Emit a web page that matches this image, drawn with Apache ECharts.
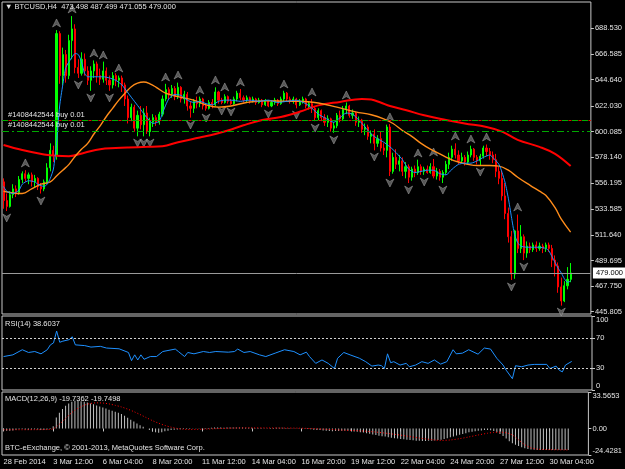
<!DOCTYPE html>
<html>
<head>
<meta charset="utf-8">
<title>BTCUSD,H4</title>
<script src="https://cdn.jsdelivr.net/npm/echarts@6/dist/echarts.min.js"></script>
<style>
html, body { margin: 0; padding: 0; background: #000; }
#main { width: 625px; height: 469px; }
</style>
</head>
<body>
<div id="main"></div>
<script>
// time axis: one label every 16 bars (H4)
var timeLabels = ['28 Feb 2014', '3 Mar 12:00', '6 Mar 04:00', '8 Mar 20:00', '11 Mar 12:00', '14 Mar 04:00',
  '16 Mar 20:00', '19 Mar 12:00', '22 Mar 04:00', '24 Mar 20:00', '27 Mar 12:00', '30 Mar 04:00'];
var labelStep = 16;
var slots = 189;

var opens = [557,541,536,546,551,548,559,564,560,563, 557,560,553,551,557,569,584,580,684,648,
  666,648,678,688,655,650,662,652,644,652, 658,648,645,652,644,640,648,644,646,640,
  628,612,621,603,614,606,616,600,608,612, 608,615,628,636,632,637,630,638,628,632,
  622,620,626,624,628,622,620,625,623,634, 627,625,630,626,624,628,633,629,627,629,
  626,628,625,627,623,626,622,625,627,624, 628,633,628,626,628,623,626,628,622,624,
  620,612,618,612,608,611,603,605,614,611, 619,622,614,616,608,610,602,604,596,598,
  590,594,586,584,604,566,578,572,575,566, 570,561,568,565,570,566,568,565,570,562,
  566,561,565,572,578,585,580,575,578,574, 580,585,578,575,579,586,583,580,576,566,
  560,545,530,510,478,515,500,510,496,502, 499,503,500,502,500,503,500,490,485,467,
  455,468,473.498];
var highs = [560,547,549,555,554,562,566,567,565,565, 563,561,556,559,573,590,588,687,686,672,
  670,683,699,692,662,668,667,656,656,661, 660,654,660,655,648,651,650,648,648,642,
  631,624,623,618,622,620,622,612,615,614, 617,631,641,638,640,639,642,639,635,634,
  626,628,630,630,629,624,627,628,638,635, 629,632,631,628,630,635,636.5,631,631,630,
  630,629,629,628,628,627,627,629,628,630, 635,634,630,630,629,628,630,629,626,628,
  622,620,619,615,614,612,608,616,618,622, 625,623,619,617,613,611,607,606,601,602,
  597,600,590,606,606.5,582,585,580,578,574, 572,570,571,576,572,570,571,573,576.6,569,
  568,567,575,582,588,590,584,582,580,583, 588,586,580,581,588,589,586,583,581,570,
  567,556,535,515,516,529,520,512,506,505, 505,506,505,504,505,505,503,494,488,475,
  472,484,487.499];
var lows = [534,532,535,543,544,546,556,557,555,553, 552,550,547,549,555,566,574,576,641,640,
  642,645,662,650,646,648,648,640,635,646, 642,640,642,640,635,637,639,638,634,622,
  607,609,600,596,602,596,598,596,604,605, 606,613,626,628,629,627,628,625,624,618,
  612,616,620,621,619,618,619,620,622,624, 623.5,624,624,623,623,626,627,625,625,624,
  625,623,624,621,622,621,621,623,622,623, 626,626,624,624,620,622,624,620,619,616,
  609,610,609,605,604,600,599,603,608,609, 615,612,611,605,604,599,597,593,590,584,
  587,583,580,578,562,564,568,566,562,560, 556,558,561,563,563,563,564,564,560,559,
  558,556,563,568,575,577,572,573,571,572, 578,575,572,571,577,579,576,573,561,555,
  541,525,505,473,474,496,496,490,492,496, 497,497,498,496,497,497,484,476,462,451,
  454,465,471.055];
var closes = [541,536,546,551,548,559,564,560,563,557, 560,553,551,557,569,584,580,684,648,666,
  648,678,688,655,650,662,652,644,652,658, 648,645,652,644,640,648,644,646,640,628,
  612,621,603,614,606,616,600,608,612,608, 615,628,636,632,637,630,638,628,632,622,
  620,626,624,628,622,620,625,623,634,627, 625,630,626,624,628,633,629,627,629,626,
  628,625,627,623,626,622,625,627,624,628, 633,628,626,628,623,626,628,622,624,620,
  612,618,612,608,611,603,605,614,611,619, 622,614,616,608,610,602,604,596,598,590,
  594,586,584,604,566,578,572,575,566,570, 561,568,565,570,566,568,565,570,562,566,
  561,565,572,578,585,580,575,578,574,580, 585,578,575,579,586,583,580,576,566,560,
  545,530,510,478,515,500,510,496,502,499, 503,500,502,500,503,500,490,485,467,455,
  468,473.5,479];

// moving averages: [bar, price]
var fastMa = [[0,553],[1,549],[3,547],[5,550],[6,555],[8,558],[10,557],[11,555],[13,553],[14,555],[15,560],[16,568],
  [17,590],[18,622],[19,640],[20,655],[22,664],[23,667],[24,666],[25,660],[26,650],[27,647],[30,647],[32,647],
  [34,646],[36,644],[38,640],[40,633],[42,626],[44,619],[46,612],[48,607],[50,609],[51,616],[53,628],[55,632],
  [57,631],[59,627],[61,625],[63,626],[65,624],[67,623],[69,626],[71,627],[73,627],[76,626],[79,627],[82,626],
  [85,627],[88,625],[91,626],[94,627],[97,624],[99,620],[101,615],[103,612],[106,608],[108,612],[110,616],
  [112,615],[114,610],[116,604],[118,598],[120,594],[122,591],[124,587],[126,582],[128,576],[130,568],[132,565],
  [134,566],[136,567],[138,567],[140,564],[142,563],[144,568],[146,572],[148,573],[150,573],[152,575],[154,578],
  [156,580],[157,578],[159,572],[160,565],[161,556],[162,543],[163,527],[164,512],[165,505],[166,502],[168,501],
  [170,501],[172,501],[174,500],[175,498],[176,493],[177,488],[178,483],[179,479],[180,474],[181,471],[182,472]];
var midMa = [[0,549],[3,547.5],[6,547],[9,551],[12,555],[15,557],[17,562],[19,567],[21,572],[23,579],[25,585],
  [27,590],[29,598],[31,605],[33,613],[35,620],[37,627],[39,633],[41,638.5],[43,641.5],[45,642.5],[47,641],
  [49,638],[52,633],[56,630],[61,627],[65,623],[69,621],[73,622],[78,625],[84,626.5],[91,626],[95,626],
  [101,624.5],[107,621],[113,617],[118,614.5],[122,611],[125,607],[128,601],[131,596],[134,590],[137,585],
  [140,581],[143,577],[146,574],[149,572],[152,571],[156,571],[159,570.5],[162,567],[165,561],[169,554],
  [172,549],[174,545.5],[177,535],[179,525],[182,514]];
var slowMa = [[0,588.6],[6,584.3],[13,580.5],[17,579.3],[21,579],[26,582],[31,585],[36,586],[40,586.5],[46,587],
  [51,587.5],[56,591],[63,595],[68,598],[72,601],[77,605.5],[83,610],[89,612.6],[95,617],[101,622.5],
  [108,625.5],[115,628],[118,627.5],[121,625],[124,622],[129,618.6],[135,614],[142,610],[148,607],[155,604],
  [160,600],[165,593],[172,587],[177,581],[182,570.5]];

// fractal arrows: [bar, price]
var fractalUp = [[7,573.2],[17,693.1],[22,705.1],[29,667.4],[32,665.7],[37,654.5],[52,646.8],[56,648.5],[63,635.7],
  [68,644.3],[71,638.3],[76,642.5],[90,640.8],[99,634.0],[110,631.4],[124,612.6],[133,581.7],[138,582.6],
  [145,596.3],[150,593.7],[155,595.4],[165,535.5]];
var fractalDown = [[1,526.1],[12,540.6],[24,640.0],[28,628.9],[34,628.9],[43,590.3],[45,590.3],[47,590.3],[60,605.7],
  [65,611.7],[70,617.7],[73,616.9],[85,615.1],[94,614.3],[100,603.1],[106,592.9],[119,578.3],[124,556.0],
  [130,550.0],[135,556.9],[141,550.0],[153,565.4],[163,467.0],[167,484.1],[179,445.5]];

var rsi = [[0,45.2],[3,47.5],[4,49.8],[6,54.4],[8,50.7],[10,52],[12,48.9],[14,54.4],[15,61],[16,63.6],[17,79.7],
  [18,64.5],[19,66],[21,68],[22,72],[23,61],[26,60],[28,58],[31,59],[33,56.7],[37,55.7],[40,50.7],[41,39.7],
  [42,47.5],[43,40.6],[44,47.5],[45,41.5],[47,45.2],[49,45.2],[51,52],[55,55.3],[56,52],[58,45.2],[59,50.7],
  [61,48.9],[64,52],[66,50.7],[68,52],[72,51.1],[74,52],[75,55.3],[77,50.7],[79,52],[82,47.5],[84,45.2],
  [87,49.8],[90,54.4],[93,52],[95,47.5],[97,51.1],[98,45.2],[100,36],[102,40.6],[104,36],[106,29],[107,42.9],
  [109,50.7],[111,47.5],[114,42.9],[116,38.3],[118,32.3],[120,33.7],[121,33],[122,29],[123,48.9],[124,36.9],
  [125,38.3],[127,33.7],[129,36],[130,31.4],[132,33.7],[134,38.3],[136,36],[138,40.6],[140,35],[142,38.3],
  [144,54.4],[145,48.9],[147,49.8],[149,54.4],[152,48.4],[154,56.7],[156,55.3],[158,42.9],[160,33.7],[161,26.8],
  [163,15.3],[164,32.8],[166,31.4],[168,33.7],[170,34.6],[174,34.6],[175,29],[177,32.3],[178,26.8],[179,24.5],
  [180,33.7],[182,38.6037]];

var macdMain = [-1.5,-2,-2.2,-1.8,-1.2,-0.8,-0.6,-0.9,-1.2,-1, -0.7,-0.9,-1.3,-1.5,-1,0.5,2,10,14.5,18,
  21,23,24.5,25.5,25.5,25,24.5,23.8,23,22.3, 21.2,20.3,19.4,18.4,17.3,16.4,15.4,14.4,13.2,11.6,
  9.8,8,6.3,4.6,3,1.5,0,-1.5,-2.8,-3.6, -4,-3.4,-2.6,-2,-1.5,-1.2,-1,-0.8,-0.6,-0.5,
  -0.4,-0.3,-0.2,0.1,0.3,0.4,0.5,0.6,0.8,0.9, 0.8,0.7,0.8,0.9,1,0.9,0.8,0.8,0.7,0.6,
  0.6,0.5,0.4,0.4,0.3,0.3,0.4,0.5,0.6,0.7, 0.6,0.5,0.4,0.3,0.2,0.1,-0.1,-0.3,-0.5,-0.8,
  -1.1,-1.3,-1.5,-1.8,-2,-2.3,-2.5,-2.4,-2.3,-2.2, -2.1,-2.2,-2.4,-2.7,-3,-3.4,-3.8,-4.3,-4.9,-5.5,
  -6,-6.6,-7.1,-7.3,-8,-8.5,-8.9,-9.3,-9.7,-10, -10.4,-10.6,-10.8,-11.2,-11.4,-11.5,-11.5,-11.4,-11.2,-11,
  -10.6,-10.3,-9.8,-9.1,-8.2,-7.3,-6.5,-5.8,-5,-4.3, -3.6,-3,-2.6,-2.2,-1.8,-1.5,-1.4,-1.6,-2.4,-3.5,
  -5,-7,-9.2,-11.8,-13.5,-15,-16.2,-17.3,-18.2,-18.9, -19.3,-19.6,-19.8,-19.9,-19.9,-19.9,-19.9,-19.9,-19.9,-19.9,
  -19.8,-19.8,-19.7362];
var macdSignal = [[0,-1.2],[10,-1.1],[15,-0.9],[16,-0.3],[17,1.5],[18,3.9],[19,6.5],[20,9.4],[21,12],[22,14.6],
  [23,16.8],[24,18.6],[25,20],[26,21.4],[27,22.3],[28,23],[30,23.6],[32,23.4],[34,22.6],[36,21.3],[38,19.8],
  [40,17.8],[42,15.5],[44,12.8],[46,10],[48,7.2],[50,4.8],[52,2.8],[54,1.2],[56,0],[58,-0.7],[60,-1],[62,-0.9],
  [66,-0.5],[70,0],[75,0.4],[80,0.6],[85,0.5],[90,0.4],[95,0.3],[100,-0.2],[105,-0.9],[110,-1.6],[115,-2.2],
  [120,-3.3],[125,-5],[130,-7],[134,-8.8],[138,-10.3],[141,-11],[144,-10.6],[147,-9.4],[150,-7.8],[153,-6],
  [156,-4.4],[158,-3.6],[160,-3.4],[162,-4],[164,-6],[166,-10.5],[168,-15],[170,-17.8],[172,-19],[176,-19.5],
  [182,-19.7498]];

var priceTicks = [445.805, 467.750, 489.695, 511.640, 533.585, 556.195, 578.140, 600.085, 622.030, 644.640, 666.585, 688.530];
var priceMin = 443.83, priceMax = 711.06;
var rsiLevels = [30, 70];
var rsiTicks = [0, 30, 70, 100];
var macdTicks = [-24.4281, 0, 33.5653];
var orderLevels = [609.4, 600.6];
var orderText = '#1408442544 buy 0.01';

var txt = '#e4e4e4';
var frame = '#c8c8c8';
var font = 'Liberation Sans';
var arrow = 'path://M4,0 L8,8 L4,5.6 L0,8 Z';

var categories = [];
for (var i = 0; i < slots; i++) {
  var k = i / labelStep;
  categories.push(i % labelStep === 0 && timeLabels[k] ? timeLabels[k] : '');
}
var candles = opens.map(function (o, i) { return [o, closes[i], lows[i], highs[i]]; });
var n = closes.length - 1;
var lastPrice = closes[n];
var header = '\u25BC BTCUSD,H4  ' + [opens[n], highs[n], lows[n], closes[n]].map(function (v) { return v.toFixed(3); }).join(' ');

var myChart = echarts.init(document.getElementById('main'), null, { renderer: 'canvas' });

function hiddenX(idx) {
  return { type: 'category', gridIndex: idx, data: categories, boundaryGap: true, show: false };
}
function textStyle() {
  return { color: txt, fontSize: 7.5, fontWeight: 'normal', fontFamily: font };
}

myChart.setOption({
  backgroundColor: '#000',
  animation: false,
  title: [
    { text: header, left: 5, top: 3, padding: 0, textStyle: textStyle() },
    { text: 'RSI(14) ' + rsi[rsi.length - 1][1].toFixed(4), left: 5, top: 320, padding: 0, textStyle: textStyle() },
    { text: 'MACD(12,26,9) ' + macdMain[n].toFixed(4) + ' ' + macdSignal[macdSignal.length - 1][1].toFixed(4), left: 5, top: 395, padding: 0, textStyle: textStyle() },
    { text: 'BTC-eExchange, \u00A9 2001-2013, MetaQuotes Software Corp.', left: 5, top: 444, padding: 0, textStyle: textStyle() }
  ],
  grid: [
    { left: 2, top: 2, width: 590, height: 312, show: true, borderColor: frame, borderWidth: 1 },
    { left: 2, top: 316, width: 590, height: 74, show: true, borderColor: frame, borderWidth: 1 },
    { left: 2, top: 392, width: 590, height: 63, show: true, borderColor: frame, borderWidth: 1 }
  ],
  xAxis: [
    hiddenX(0),
    hiddenX(1),
    {
      type: 'category', gridIndex: 2, data: categories, boundaryGap: true,
      axisLine: { show: false },
      axisTick: { show: true, alignWithLabel: true, length: 3, lineStyle: { color: frame },
        interval: function (i) { return i % labelStep === 0; } },
      axisLabel: { interval: function (i) { return i % labelStep === 0; }, align: 'left', margin: 3,
        color: txt, fontSize: 7.5, fontFamily: font }
    }
  ],
  yAxis: [
    {
      type: 'value', gridIndex: 0, position: 'right', min: priceMin, max: priceMax, scale: true,
      axisLine: { show: false }, splitLine: { show: false },
      axisTick: { show: true, customValues: priceTicks, length: 3, lineStyle: { color: frame } },
      axisLabel: { customValues: priceTicks, formatter: function (v) { return v.toFixed(3); },
        color: txt, fontSize: 7.5, fontFamily: font, margin: 4 }
    },
    {
      type: 'value', gridIndex: 1, position: 'right', min: 0, max: 100,
      axisLine: { show: false }, splitLine: { show: false },
      axisTick: { show: true, customValues: rsiTicks, length: 3, lineStyle: { color: frame } },
      axisLabel: { customValues: rsiTicks, color: txt, fontSize: 7.5, fontFamily: font, margin: 4,
        verticalAlignMinLabel: 'bottom', verticalAlignMaxLabel: 'top' }
    },
    {
      type: 'value', gridIndex: 2, position: 'right', min: macdTicks[0], max: macdTicks[2],
      axisLine: { show: false }, splitLine: { show: false },
      axisTick: { show: true, customValues: macdTicks, length: 3, lineStyle: { color: frame } },
      axisLabel: { customValues: macdTicks, color: txt, fontSize: 7.5, fontFamily: font, margin: 4,
        verticalAlignMinLabel: 'bottom', verticalAlignMaxLabel: 'top',
        formatter: function (v) { return Math.abs(v) < 1e-9 ? '0.00' : v.toFixed(4); } }
    }
  ],
  series: [
    {
      type: 'candlestick', name: 'BTCUSD', xAxisIndex: 0, yAxisIndex: 0, data: candles, barWidth: 1.6,
      itemStyle: { color: '#00ff00', color0: '#ff0000', borderColor: '#00ff00', borderColor0: '#ff0000', borderWidth: 1 },
      markLine: {
        symbol: ['none', 'none'], silent: true, animation: false,
        data: [
          { yAxis: lastPrice, lineStyle: { color: '#9a9a9a', width: 1, type: 'solid' },
            label: { show: true, position: 'end', formatter: lastPrice.toFixed(3), color: '#000', backgroundColor: '#fff',
              padding: [2, 3, 1, 3], fontSize: 7.5, fontFamily: font, distance: 2 } },
          { yAxis: orderLevels[0], lineStyle: { color: '#00b000', width: 1, type: [6, 4] },
            label: { show: true, position: 'insideStartTop', formatter: orderText, color: txt, fontSize: 7.5, fontFamily: font, distance: [6, 2] } },
          { yAxis: orderLevels[0], lineStyle: { color: '#e01000', width: 1, type: [3, 7], dashOffset: 3.5 }, label: { show: false } },
          { yAxis: orderLevels[1], lineStyle: { color: '#00a800', width: 1, type: [7, 3, 2, 3] },
            label: { show: true, position: 'insideStartTop', formatter: orderText, color: txt, fontSize: 7.5, fontFamily: font, distance: [6, 2] } }
        ]
      }
    },
    { type: 'line', xAxisIndex: 0, yAxisIndex: 0, data: slowMa, showSymbol: false, smooth: 0.4,
      lineStyle: { color: '#ff0000', width: 2 } },
    { type: 'line', xAxisIndex: 0, yAxisIndex: 0, data: midMa, showSymbol: false, smooth: 0.4,
      lineStyle: { color: '#ff8c1a', width: 1.4 } },
    { type: 'line', xAxisIndex: 0, yAxisIndex: 0, data: fastMa, showSymbol: false, smooth: 0.2,
      lineStyle: { color: '#1e90ff', width: 1 } },
    { type: 'scatter', xAxisIndex: 0, yAxisIndex: 0, data: fractalUp, symbol: arrow, symbolSize: [8, 8],
      itemStyle: { color: '#6c6c6c', borderColor: '#a8a8a8', borderWidth: 0.6 } },
    { type: 'scatter', xAxisIndex: 0, yAxisIndex: 0, data: fractalDown, symbol: arrow, symbolSize: [8, 8], symbolRotate: 180,
      itemStyle: { color: '#6c6c6c', borderColor: '#a8a8a8', borderWidth: 0.6 } },
    {
      type: 'line', xAxisIndex: 1, yAxisIndex: 1, data: rsi, showSymbol: false,
      lineStyle: { color: '#1e90ff', width: 1 },
      markLine: { symbol: ['none', 'none'], silent: true, label: { show: false },
        lineStyle: { color: '#d0d0d0', width: 1, type: [2, 2] },
        data: rsiLevels.map(function (v) { return { yAxis: v }; }) }
    },
    { type: 'bar', xAxisIndex: 2, yAxisIndex: 2, data: macdMain, barWidth: 1,
      itemStyle: { color: '#c0c0c0' } },
    { type: 'line', xAxisIndex: 2, yAxisIndex: 2, data: macdSignal, showSymbol: false, smooth: 0.3,
      lineStyle: { color: '#ff0000', width: 1, type: [1, 2] } }
  ]
});
</script>
</body>
</html>
